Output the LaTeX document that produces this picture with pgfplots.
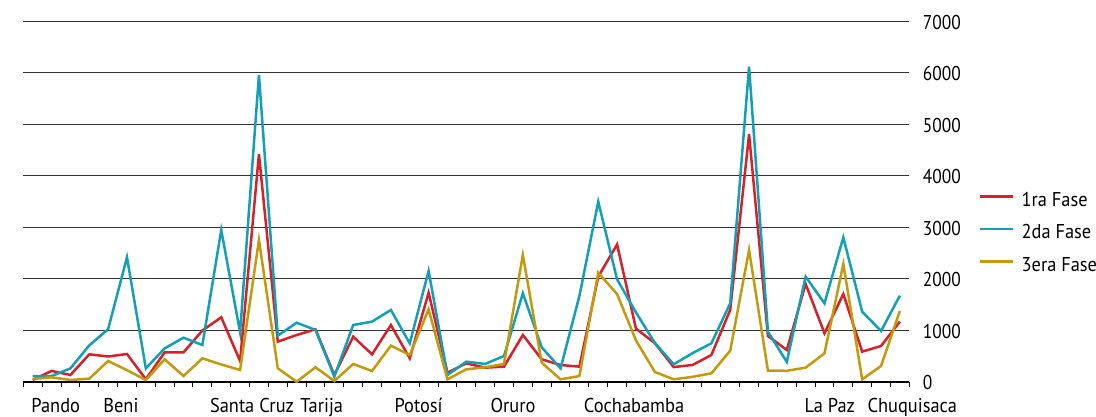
\documentclass[border=0pt]{standalone}
\usepackage{pgfplots}
\usepackage{pgfplotstable}
\pgfplotsset{compat=1.18}
\usepackage{fontspec}
\setmainfont{PT Sans}[FakeStretch=0.92]
\newfontfamily\numfont{PT Sans}[FakeStretch=0.87]
\definecolor{cRed}{RGB}{214,32,42}
\definecolor{cCyan}{RGB}{20,160,180}
\definecolor{cGold}{RGB}{196,154,12}

\pgfplotstableread{
x r c g
1 40 116 58
2 215 116 91
3 136 265 39
4 537 710 65
5 495 1025 408
6 543 2420 230
7 52 265 39
8 576 653 440
9 576 860 116
10 1000 718 459
11 1255 2950 340
12 408 964 233
13 4420 5960 2756
14 783 900 265
15 912 1150 6
16 1022 1010 285
17 136 104 20
18 880 1106 350
19 537 1171 213
20 1106 1398 705
21 459 750 524
22 1734 2155 1410
23 181 136 52
24 362 395 246
25 278 350 285
26 298 505 350
27 912 1721 2465
28 440 673 375
29 330 265 52
30 298 1670 116
31 2045 3500 2122
32 2670 1990 1705
33 1035 1350 808
34 755 760 195
35 290 343 52
36 330 560 100
37 524 750 168
38 1398 1527 608
39 4807 6120 2562
40 893 977 220
41 621 390 218
42 1902 2045 278
43 945 1527 556
44 1708 2808 2290
45 589 1365 52
46 699 990 310
47 1171 1676 1378
}\datatable

\begin{document}
\begin{tikzpicture}
\begin{axis}[
  at={(23.3pt,35pt)}, anchor=south west,
  scale only axis, width=886pt, height=360.7pt,
  xmin=0.5, xmax=47.5, ymin=0, ymax=7000,
  axis x line*=bottom, axis y line*=right,
  y axis line style={draw=none},
  x axis line style={line width=1.1pt, black},
  ytick={0,1000,...,7000},
  ymajorgrids, grid style={line width=1pt, black!80},
  major tick length=0pt,
  minor tick length=5pt,
  tick align=outside,
  xtick={2.22,5.68,12.63,16.33,21.47,26.48,32.9,43.28},
  xticklabels={Pando,Beni,Santa Cruz,Tarija,Potosí,Oruro,Cochabamba,La Paz},
  extra x ticks={47.45},
  extra x tick labels={Chuquisaca},
  extra x tick style={major x tick style={draw=none}, xticklabel style={xshift=4pt}},
  minor xtick={0.5,1.5,...,47.5},
  minor x tick style={line width=1pt, black},
  major x tick style={draw=none},
  major y tick style={draw=none},
  /pgf/number format/assume math mode=true,
  /pgf/number format/1000 sep={},
  xticklabel style={font=\fontsize{20}{24}\selectfont, anchor=base, inner sep=0pt, yshift=-31pt},
  yticklabel style={font=\numfont\fontsize{20}{24}\selectfont, anchor=base west, inner sep=0pt, xshift=13.4pt, yshift=-8pt},
  clip=false,
  legend cell align=left,
  legend image code/.code={\draw[#1] (0pt,3pt) -- (33pt,3pt); \path (40pt,3pt);},
  legend style={at={(1.0786,0.4160)}, anchor=west, draw=none, fill=none, inner sep=0pt,
    column sep=0pt, row sep=18.6pt, font=\fontsize{20}{24}\selectfont,
    nodes={inner sep=0pt, text height=14pt, text depth=0pt}},
]
\addplot[cRed, line width=2.5pt] table[x=x, y=r] {\datatable};
\addlegendentry{1ra Fase}
\addplot[cCyan, line width=2.5pt] table[x=x, y=c] {\datatable};
\addlegendentry{2da Fase}
\addplot[cGold, line width=2.5pt] table[x=x, y=g] {\datatable};
\addlegendentry{3era Fase}
\end{axis}
\pgfresetboundingbox
\path[use as bounding box] (0,0) rectangle (1096pt,417pt);
\end{tikzpicture}
\end{document}
